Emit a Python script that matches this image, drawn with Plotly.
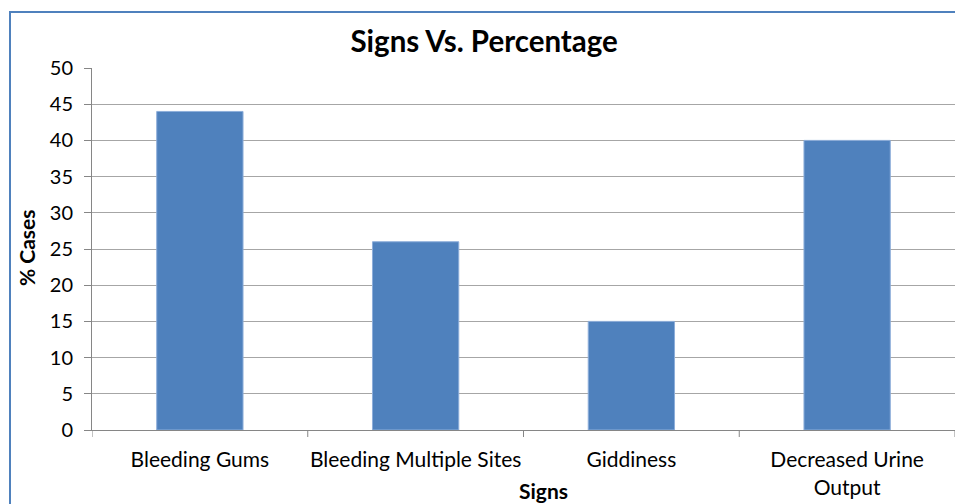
import plotly.graph_objects as go

# Data
categories = ["Bleeding Gums", "Bleeding Multiple Sites", "Giddiness", "Decreased Urine<br>Output"]
percent_cases = [44, 26, 15, 40]
y_ticks = list(range(0, 51, 5))

W, H = 955, 504
ml, mr, mt, mb = 92, 0, 68, 74
pw, ph = W - ml - mr, H - mt - mb

def px_to_paper_x(px):
    return (px - ml) / pw

def px_to_paper_y(py):
    return (H - mb - py) / ph

FONT = "Lato"

fig = go.Figure(
    go.Bar(
        x=categories,
        y=percent_cases,
        marker=dict(color="#4F81BD", line=dict(color="#8DAEDA", width=1)),
        width=0.4,
    )
)

fig.update_layout(
    width=W,
    height=H,
    margin=dict(l=ml, r=mr, t=mt, b=mb),
    paper_bgcolor="white",
    plot_bgcolor="white",
    showlegend=False,
    font=dict(family=FONT, size=20, color="#000000"),
    title=dict(
        text="<b>Signs Vs. Percentage</b>",
        x=0.507, xanchor="center",
        y=1 - 42 / H, yanchor="middle",
        font=dict(family=FONT, size=29.5, color="#000000"),
    ),
    xaxis=dict(
        showgrid=False,
        showline=True, linecolor="#868686", linewidth=1,
        ticks="", tickfont=dict(size=21),
        ticklabelstandoff=11,
        range=[-0.5, 3.5],
    ),
    yaxis=dict(
        range=[0, 50],
        tickvals=y_ticks,
        showgrid=True, gridcolor="#A6A6A6", gridwidth=1,
        showline=True, linecolor="#868686", linewidth=1,
        ticks="outside", ticklen=7, tickcolor="#868686",
        tickfont=dict(size=20),
        ticklabelstandoff=7,
        zeroline=False,
    ),
    annotations=[
        dict(text="<b>Signs</b>", xref="paper", yref="paper",
             x=px_to_paper_x(543), y=px_to_paper_y(490),
             xanchor="center", yanchor="middle",
             showarrow=False, font=dict(family=FONT, size=21)),
        dict(text="<b>% Cases</b>", xref="paper", yref="paper",
             x=px_to_paper_x(27), y=px_to_paper_y(248),
             xanchor="center", yanchor="middle",
             textangle=-90, showarrow=False, font=dict(family=FONT, size=21)),
    ],
    shapes=[
        # outer chart border
        dict(type="rect", xref="paper", yref="paper",
             x0=px_to_paper_x(10), x1=px_to_paper_x(970),
             y0=px_to_paper_y(520), y1=px_to_paper_y(12),
             line=dict(color="#4F81BD", width=2), layer="below"),
    ],
)

# Category boundary tick marks below the x axis
for i in range(len(categories) + 1):
    fig.add_shape(type="line", xref="x", yref="paper",
                  x0=i - 0.5, x1=i - 0.5,
                  y0=0, y1=px_to_paper_y(437),
                  line=dict(color="#868686", width=1))

fig.write_html("out.html")
